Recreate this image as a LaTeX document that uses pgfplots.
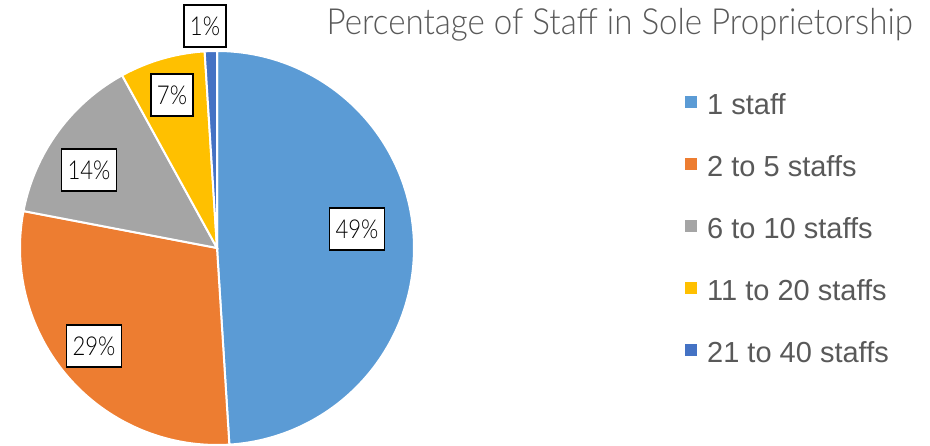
\documentclass[border=0pt]{standalone}
\usepackage{pgfplots}
\pgfplotsset{compat=1.18}
\usepackage{pgfplotstable}
\usepackage{fontspec}
\setmainfont{Liberation Sans}
\newfontfamily\lightfont[FakeStretch=0.92]{Lato Light}
\newfontfamily\lblfont[FakeStretch=0.85]{Lato Light}
\definecolor{pc0}{HTML}{5B9BD5}
\definecolor{pc1}{HTML}{ED7D31}
\definecolor{pc2}{HTML}{A5A5A5}
\definecolor{pc3}{HTML}{FFC000}
\definecolor{pc4}{HTML}{4472C4}
\definecolor{tgray}{HTML}{595959}
\tikzset{lbl/.style={draw=black, line width=1.8pt, fill=white, text=black,
    font=\lblfont\fontsize{26}{26}\selectfont, inner xsep=6pt,
    minimum height=42pt}}

\pgfplotstableread{
value
49
29
14
7
1
}\piedata

\pgfmathsetmacro\cum{0}
\pgfplotsforeachungrouped \i in {0,...,4}{%
  \pgfplotstablegetelem{\i}{value}\of\piedata
  \pgfmathsetmacro\st{90-3.6*\cum}%
  \pgfmathsetmacro\cum{\cum+\pgfplotsretval}%
  \pgfmathsetmacro\en{90-3.6*\cum}%
  \expandafter\xdef\csname pieS\i\endcsname{\st}%
  \expandafter\xdef\csname pieE\i\endcsname{\en}%
}

\begin{document}
\begin{tikzpicture}
\begin{axis}[
  hide axis, scale only axis, width=930pt, height=446pt,
  xmin=0, xmax=930, ymin=0, ymax=446, clip=false,
  legend entries={1 staff,2 to 5 staffs,6 to 10 staffs,11 to 20 staffs,21 to 40 staffs},
  legend cell align=left,
  legend style={at={(axis cs:685,352)}, anchor=north west, draw=none, fill=none,
    inner sep=0pt, row sep=36pt, column sep=10pt,
    nodes={inner sep=0pt, text height=20pt, text depth=6pt,
      font=\fontsize{29}{29}\selectfont, text=tgray}},
]
\pgfplotsinvokeforeach{0,...,4}{
  \addplot[fill=pc#1, draw=white, line width=2pt, samples=120, variable=\t,
    domain=\csname pieE#1\endcsname:\csname pieS#1\endcsname,
    legend image code/.code={\fill[pc#1] (0pt,0pt) rectangle (10pt,10pt);}]
    ({217+197*cos(\t)},{198+197*sin(\t)}) -- (axis cs:217,198) -- cycle;
}
\node[lbl] at (axis cs:357,217) {49\%};
\node[lbl] at (axis cs:94,100) {29\%};
\node[lbl] at (axis cs:89,276) {14\%};
\node[lbl] at (axis cs:172,351) {7\%};
\node[lbl] at (axis cs:205,420) {1\%};
\node[anchor=base east, text=tgray, font=\lightfont\fontsize{36}{36}\selectfont, inner sep=0pt]
  at (axis cs:913,411) {Percentage of Staff in Sole Proprietorship};
\end{axis}
\pgfresetboundingbox
\path (current axis.south west) rectangle (current axis.north east);
\end{tikzpicture}
\end{document}
